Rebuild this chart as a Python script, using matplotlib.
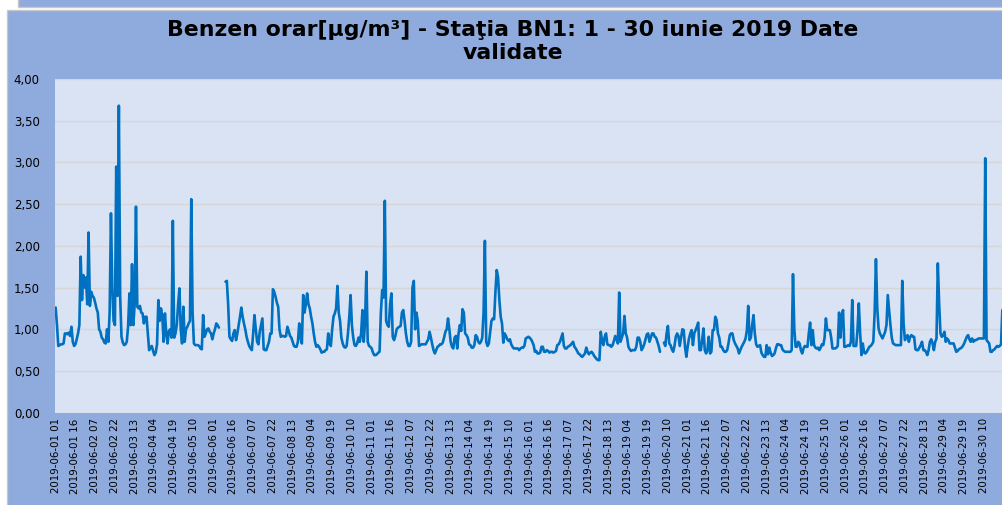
import numpy as np
import pandas as pd
import matplotlib
matplotlib.use("Agg")
import matplotlib.pyplot as plt
from matplotlib.patches import Rectangle

nan = np.nan

# valori orare benzen (µg/m³), cate o lista pe zi, ora 01 ... ora 24
zi01 = [1.26, 1.05, 0.80, 0.81, 0.82, 0.82, 0.83, 0.95, 0.95, 0.94, 0.96, 0.92, 1.03, 0.85, 0.80, 0.82, 0.88, 0.95, 1.05, 1.87, 1.35, 1.65, 1.50, 1.62]
zi02 = [1.30, 2.16, 1.28, 1.45, 1.40, 1.38, 1.32, 1.25, 1.20, 1.00, 0.97, 0.90, 0.88, 0.84, 0.83, 1.00, 0.85, 1.20, 2.39, 1.50, 1.10, 1.05, 2.95, 1.40]
zi03 = [3.68, 1.39, 0.91, 0.84, 0.81, 0.82, 0.85, 1.03, 1.43, 1.05, 1.78, 1.05, 1.30, 2.47, 1.27, 1.25, 1.28, 1.20, 1.19, 1.07, 1.15, 1.15, 0.95, 0.75]
zi04 = [0.78, 0.80, 0.74, 0.69, 0.72, 0.82, 1.35, 1.10, 1.25, 1.15, 0.85, 1.19, 0.95, 0.83, 0.98, 1.00, 0.90, 2.30, 0.90, 0.95, 1.05, 1.30, 1.49, 1.00]
zi05 = [0.83, 1.27, 0.85, 1.00, 1.03, 1.07, 1.10, 2.56, 1.20, 0.83, 0.81, 0.81, 0.81, 0.80, 0.77, 0.76, 1.17, 0.91, 0.95, 1.00, 1.01, 0.97, 0.95, 0.88]
zi06 = [0.95, 1.00, 1.07, 1.05, 1.02, nan, nan, nan, nan, 1.57, 1.58, 1.30, 0.91, 0.88, 0.86, 0.95, 0.99, 0.87, 0.95, 1.05, 1.15, 1.26, 1.15, 1.07]
zi07 = [1.00, 0.91, 0.85, 0.80, 0.77, 0.75, 0.95, 1.17, 1.00, 0.85, 0.82, 0.97, 1.05, 1.13, 0.76, 0.75, 0.75, 0.80, 0.85, 0.95, 0.95, 1.48, 1.45, 1.39]
zi08 = [1.32, 1.27, 1.00, 0.91, 0.92, 0.92, 0.91, 0.92, 1.03, 0.98, 0.92, 0.90, 0.85, 0.80, 0.79, 0.79, 0.85, 1.07, 0.90, 0.83, 1.41, 1.20, 1.30, 1.43]
zi09 = [1.30, 1.25, 1.15, 1.07, 0.95, 0.85, 0.79, 0.81, 0.79, 0.76, 0.72, 0.73, 0.73, 0.75, 0.76, 0.95, 0.83, 0.80, 1.00, 1.15, 1.19, 1.25, 1.52, 1.20]
zi10 = [1.10, 0.90, 0.83, 0.79, 0.78, 0.80, 0.95, 1.15, 1.41, 1.05, 0.90, 0.81, 0.80, 0.83, 0.90, 0.85, 0.95, 1.23, 0.85, 1.10, 1.69, 0.85, 0.80, 0.79]
zi11 = [0.77, 0.72, 0.69, 0.69, 0.70, 0.72, 0.73, 1.20, 1.47, 1.38, 2.54, 1.10, 1.05, 1.03, 1.30, 1.43, 0.91, 0.87, 0.92, 1.00, 1.02, 1.03, 1.04, 1.20]
zi12 = [1.23, 1.10, 0.95, 0.85, 0.80, 0.80, 0.85, 1.50, 1.58, 1.00, 1.20, 1.10, 0.80, 0.81, 0.82, 0.82, 0.82, 0.82, 0.85, 0.88, 0.97, 0.90, 0.82, 0.75]
zi13 = [0.71, 0.75, 0.79, 0.80, 0.82, 0.82, 0.84, 0.90, 0.97, 1.00, 1.13, 1.00, 0.85, 0.79, 0.77, 0.90, 0.92, 0.77, 0.95, 1.05, 0.98, 1.24, 1.20, 0.95]
zi14 = [0.93, 0.90, 0.82, 0.81, 0.78, 0.78, 0.81, 0.93, 0.91, 0.85, 0.83, 0.85, 0.90, 1.20, 2.06, 0.85, 0.80, 0.83, 0.97, 1.10, 1.13, 1.12, 1.45, 1.71]
zi15 = [1.62, 1.35, 1.15, 1.07, 0.84, 0.95, 0.92, 0.88, 0.86, 0.88, 0.82, 0.79, 0.77, 0.77, 0.77, 0.77, 0.75, 0.77, 0.78, 0.78, 0.80, 0.89, 0.90, 0.91]
zi16 = [0.90, 0.88, 0.85, 0.81, 0.73, 0.74, 0.71, 0.71, 0.72, 0.79, 0.79, 0.73, 0.73, 0.75, 0.74, 0.72, 0.73, 0.73, 0.72, 0.73, 0.74, 0.81, 0.82, 0.85]
zi17 = [0.90, 0.95, 0.80, 0.77, 0.77, 0.79, 0.80, 0.81, 0.83, 0.85, 0.79, 0.77, 0.74, 0.71, 0.70, 0.68, 0.67, 0.69, 0.71, 0.78, 0.73, 0.70, 0.72, 0.73]
zi18 = [0.71, 0.68, 0.66, 0.64, 0.63, 0.63, 0.97, 0.86, 0.81, 0.91, 0.95, 0.82, 0.81, 0.81, 0.79, 0.81, 0.86, 0.92, 0.88, 0.83, 1.44, 0.85, 0.90, 0.95]
zi19 = [1.16, 0.95, 0.90, 0.79, 0.76, 0.74, 0.75, 0.75, 0.75, 0.79, 0.90, 0.90, 0.85, 0.75, 0.78, 0.82, 0.88, 0.94, 0.95, 0.85, 0.90, 0.95, 0.95, 0.91]
zi20 = [0.90, 0.85, 0.80, 0.73, nan, nan, 0.84, 0.80, 0.95, 1.04, 0.83, 0.81, 0.76, 0.73, 0.80, 0.91, 0.95, 0.92, 0.80, 0.90, 1.00, 0.99, 0.79, 0.67]
zi21 = [0.79, 0.89, 0.95, 0.99, 0.81, 0.95, 0.99, 1.03, 1.08, 0.75, 0.75, 0.87, 1.01, 0.75, 0.71, 0.75, 0.91, 0.71, 0.73, 0.99, 0.99, 1.15, 1.11, 0.95]
zi22 = [0.90, 0.79, 0.79, 0.75, 0.73, 0.73, 0.75, 0.83, 0.93, 0.95, 0.95, 0.87, 0.83, 0.80, 0.77, 0.71, 0.75, 0.79, 0.82, 0.85, 0.89, 0.99, 1.28, 0.87]
zi23 = [0.90, 1.05, 1.17, 0.95, 0.82, 0.79, 0.80, 0.81, 0.72, 0.69, 0.67, 0.67, 0.81, 0.70, 0.78, 0.72, 0.68, 0.69, 0.71, 0.77, 0.82, 0.82, 0.81, 0.81]
zi24 = [0.76, 0.74, 0.73, 0.73, 0.73, 0.73, 0.73, 0.75, 1.66, 1.00, 0.79, 0.79, 0.85, 0.83, 0.75, 0.71, 0.77, 0.80, 0.79, 0.79, 0.95, 1.08, 0.81, 0.99]
zi25 = [0.81, 0.78, 0.77, 0.78, 0.75, 0.78, 0.82, 0.81, 0.90, 1.13, 0.99, 0.99, 0.99, 0.90, 0.77, 0.77, 0.77, 0.78, 0.80, 1.20, 0.90, 1.15, 1.23, 0.79]
zi26 = [0.79, 0.80, 0.81, 0.80, 0.85, 1.35, 0.80, 0.80, 0.80, 1.00, 1.31, 0.95, 0.69, 0.83, 0.72, 0.71, 0.73, 0.76, 0.79, 0.80, 0.82, 0.85, 1.19, 1.84]
zi27 = [1.25, 1.01, 0.95, 0.92, 0.89, 0.93, 0.97, 1.05, 1.41, 1.23, 1.05, 0.90, 0.83, 0.82, 0.81, 0.81, 0.81, 0.81, 0.81, 1.58, 1.07, 0.87, 0.90, 0.93]
zi28 = [0.85, 0.91, 0.93, 0.91, 0.91, 0.76, 0.75, 0.75, 0.78, 0.81, 0.85, 0.75, 0.75, 0.73, 0.69, 0.75, 0.85, 0.88, 0.83, 0.75, 0.85, 0.89, 1.79, 1.31]
zi29 = [0.95, 0.91, 0.93, 0.97, 0.85, 0.89, 0.87, 0.83, 0.83, 0.83, 0.83, 0.78, 0.73, 0.74, 0.76, 0.77, 0.78, 0.80, 0.83, 0.87, 0.91, 0.93, 0.88, 0.85]
zi30 = [0.89, 0.85, 0.87, 0.87, 0.88, 0.89, 0.89, 0.89, 0.89, 0.89, 3.05, 0.87, 0.85, 0.83, 0.73, 0.73, 0.75, 0.76, 0.78, 0.80, 0.79, 0.80, 0.82, 1.23]

valori = (zi01 + zi02 + zi03 + zi04 + zi05 + zi06 + zi07 + zi08 + zi09 + zi10 +
          zi11 + zi12 + zi13 + zi14 + zi15 + zi16 + zi17 + zi18 + zi19 + zi20 +
          zi21 + zi22 + zi23 + zi24 + zi25 + zi26 + zi27 + zi28 + zi29 + zi30)

ore = pd.date_range("2019-06-01 01:00", periods=len(valori), freq="h")
etichete = ore.strftime("%Y-%m-%d %H")
pas = 15  # o eticheta la 15 ore

titlu = "Benzen orar[µg/m³] - Staţia BN1: 1 - 30 iunie 2019 Date\nvalidate"

albastru = "#8FAADC"
fundal = "#DAE3F3"

W, H = 1003, 505
fig = plt.figure(figsize=(W / 100, H / 100), dpi=100, facecolor="white")

# caseta graficului + marginea casetei de deasupra
fig.patches.append(Rectangle((7 / W, -0.1), 1.1, 1 - 10 / H + 0.1, transform=fig.transFigure,
                             facecolor=albastru, edgecolor="#C8C8C8", lw=1, zorder=-10))
fig.patches.append(Rectangle((18 / W, 1 - 7 / H), 1.1, 0.1, transform=fig.transFigure,
                             facecolor=albastru, edgecolor="#C8C8C8", lw=1, zorder=-10))

ax = fig.add_axes([55 / W, 92.3 / H, 948 / W, 333.7 / H])
ax.set_zorder(5)
ax.set_facecolor(fundal)

x = np.arange(len(valori))
ax.plot(x, valori, color="#0070C0", lw=1.9, solid_joinstyle="round", solid_capstyle="round")

ax.set_xlim(-0.5, len(valori) - 0.5)
ax.set_ylim(0, 4)
yt = np.arange(0, 4.01, 0.5)
ax.set_yticks(yt)
ax.set_yticklabels([f"{v:.2f}".replace(".", ",") for v in yt], fontsize=8.5)
ax.set_xticks(x[::pas])
ax.set_xticklabels(etichete[::pas], rotation=90, fontsize=7.4)
ax.tick_params(axis="both", length=0, colors="black")
ax.tick_params(axis="x", pad=4)
ax.tick_params(axis="y", pad=11)
ax.yaxis.grid(True, color="#D6D6D6", lw=1)
ax.set_axisbelow(True)
for s in ax.spines.values():
    s.set_visible(False)

fig.text(513 / W, 1 - 20 / H, titlu, ha="center", va="top", fontsize=15.8,
         fontweight="bold", linespacing=1.2, zorder=6)

fig.savefig("out.png", dpi=100, facecolor=fig.get_facecolor())
